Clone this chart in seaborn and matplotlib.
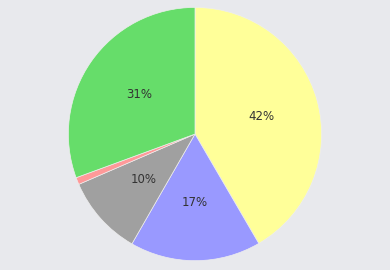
import matplotlib
matplotlib.use("Agg")
import matplotlib.pyplot as plt
import seaborn as sns

categories = ["Yellow", "Blue", "Gray", "Red", "Green"]
values = [41.6, 16.7, 10.2, 0.9, 30.6]
colors = ["#FFFF99", "#9999FF", "#A0A0A0", "#FF9999", "#66DD6A"]

sns.set_theme(style="white")
plt.rcParams["font.family"] = ["DejaVu Sans"]

fig = plt.figure(figsize=(3.9, 2.7), dpi=100)
fig.patch.set_facecolor("#E8E9ED")
ax = fig.add_axes([0, 0, 1, 1])
ax.set_facecolor("#E8E9ED")

def fmt(p):
    return f"{p:.0f}%" if p >= 2 else ""

wedges, texts, autotexts = ax.pie(
    values, colors=colors, startangle=90, counterclock=False,
    autopct=fmt, pctdistance=0.54,
    wedgeprops=dict(edgecolor="#EEEEEE", linewidth=0.5),
    textprops=dict(color="#333333", fontsize=8.5),
)
ax.set_aspect("equal")
ax.set_xlim(-1.54, 1.54)
ax.set_ylim(-1.07, 1.055)
ax.axis("off")
fig.savefig("out.png", dpi=100, facecolor=fig.get_facecolor())
